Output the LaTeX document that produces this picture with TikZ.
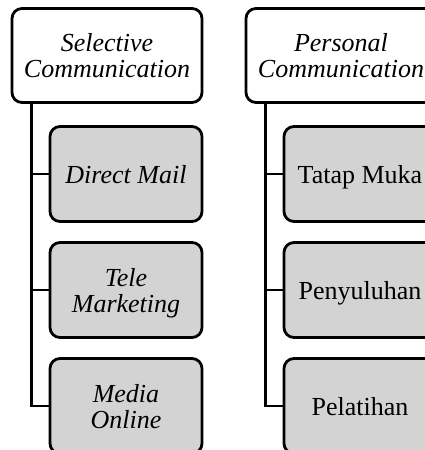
\documentclass[tikz,border=0pt]{standalone}
\usepackage{fontspec}
\setmainfont{Liberation Serif}
\usetikzlibrary{calc}
\definecolor{boxgray}{RGB}{211,211,211}
\begin{document}
\begin{tikzpicture}[x=1pt,y=-1pt,
  box/.style={draw=black, line width=2.8pt, rounded corners=10pt,
    align=center, inner sep=0pt, text depth=0pt,
    font=\fontsize{26}{26}\selectfont},
  headbox/.style={box, fill=white, minimum width=190pt, minimum height=94pt},
  itembox/.style={box, fill=boxgray, minimum width=152pt, minimum height=95pt},
  link/.style={draw=black, line width=2.8pt}]
\useasboundingbox (0,0) rectangle (425,450);
\clip (0,0) rectangle (425,450);

% left column
\node[headbox] (h1) at (107,55.5) {\itshape Selective\\\itshape Communication};
\node[itembox] (a1) at (126,174) {\itshape Direct Mail};
\node[itembox] (a2) at (126,290) {\itshape Tele\\\itshape Marketing};
\node[itembox] (a3) at (126,406) {\itshape Media\\\itshape Online};

% right column
\node[headbox] (h2) at (341,55.5) {\itshape Personal\\\itshape Communication};
\node[itembox] (b1) at (360,174) {Tatap Muka};
\node[itembox] (b2) at (360,290) {Penyuluhan};
\node[itembox] (b3) at (360,406) {Pelatihan};

% connectors
\foreach \h/\c in {h1/a1,h1/a2,h1/a3,h2/b1,h2/b2,h2/b3}
  \draw[link] ($(\h.south west)+(21,0)$) |- (\c.west);
\end{tikzpicture}
\end{document}
